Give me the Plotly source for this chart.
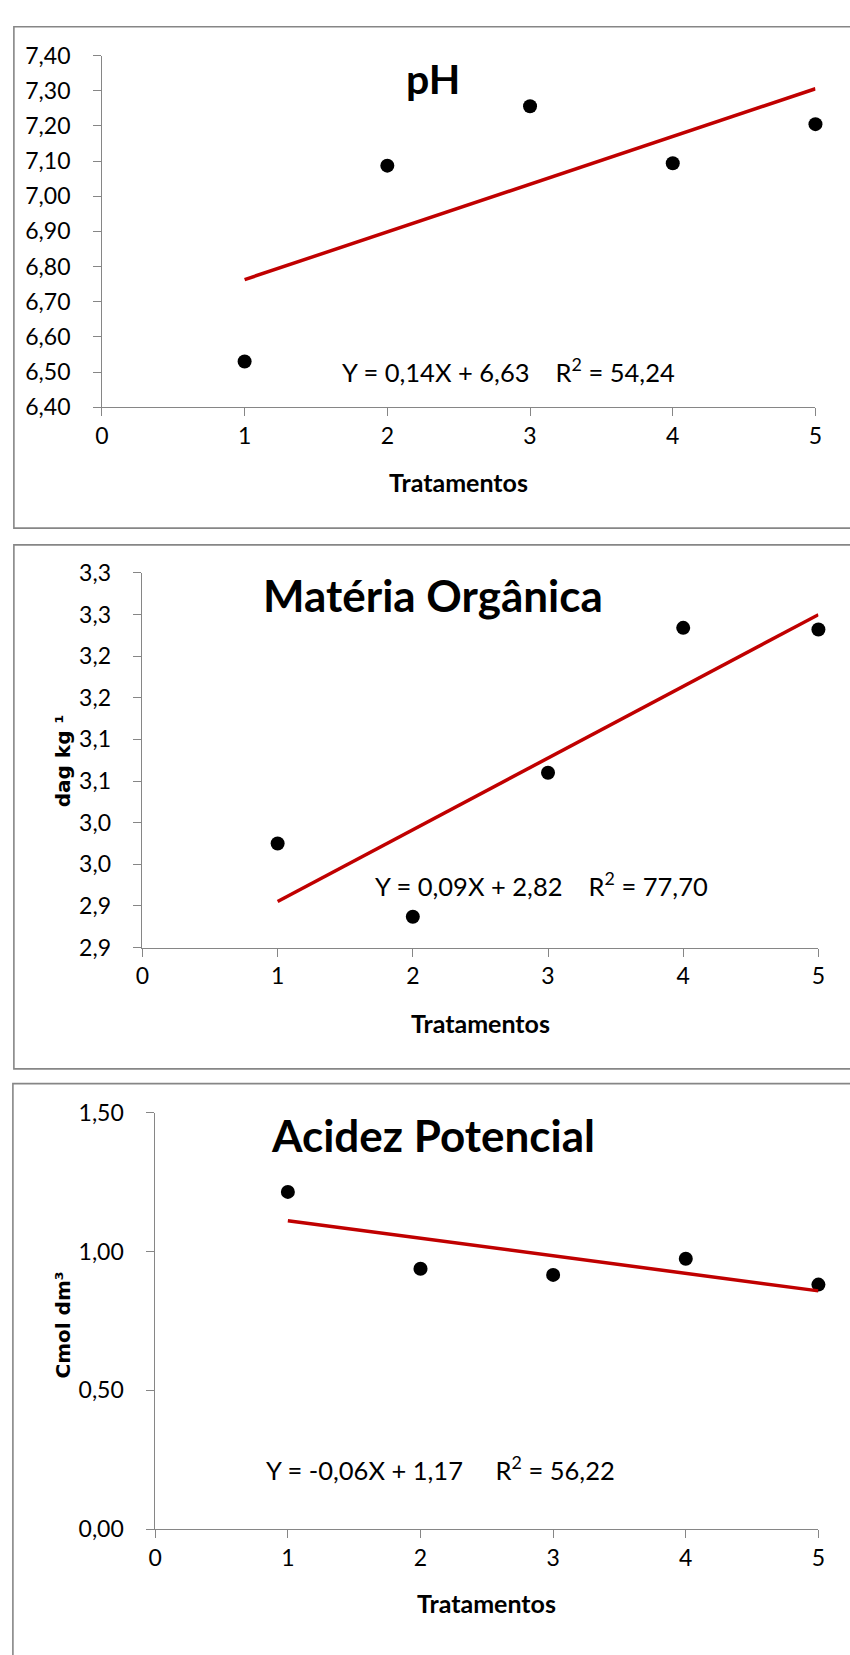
import numpy as np
import plotly.graph_objects as go

W, H = 850, 1655

# ---------------- data ----------------
tratamentos = [1, 2, 3, 4, 5]
ph_values = [6.53, 7.087, 7.256, 7.094, 7.205]
mo_values = [2.975, 2.887, 3.060, 3.234, 3.232]
acidez_values = [1.215, 0.938, 0.916, 0.974, 0.881]

x_ticks = [0, 1, 2, 3, 4, 5]
x_ticktext = ["0", "1", "2", "3", "4", "5"]

ph_ticks = [6.40, 6.50, 6.60, 6.70, 6.80, 6.90, 7.00, 7.10, 7.20, 7.30, 7.40]
ph_ticktext = ["6,40", "6,50", "6,60", "6,70", "6,80", "6,90", "7,00", "7,10", "7,20", "7,30", "7,40"]

mo_ticks = [2.85, 2.90, 2.95, 3.00, 3.05, 3.10, 3.15, 3.20, 3.25, 3.30]
mo_ticktext = ["2,9", "2,9", "3,0", "3,0", "3,1", "3,1", "3,2", "3,2", "3,3", "3,3"]

ac_ticks = [0.0, 0.5, 1.0, 1.5]
ac_ticktext = ["0,00", "0,50", "1,00", "1,50"]

titles = ["pH", "Matéria Orgânica", "Acidez Potencial"]
equations = [
    "Y = 0,14X + 6,63\u00a0\u00a0\u00a0\u00a0R<sup>2</sup> = 54,24",
    "Y = 0,09X + 2,82\u00a0\u00a0\u00a0\u00a0R<sup>2</sup> = 77,70",
    "Y = -0,06X + 1,17\u00a0\u00a0\u00a0\u00a0\u00a0R<sup>2</sup> = 56,22",
]
y_titles = [None, "dag kg \u00b9", "Cmol dm\u00b3"]
x_title = "Tratamentos"

# ---------------- layout helpers ----------------
def px(x):
    return x / W

def py(y):
    return 1 - y / H

GRAY = "#868686"
RED = "#C00000"
FONT = "Lato"
PAD = "\u00a0" * 3   # gap between y tick labels and ticks

panels = [
    dict(x0=96.5, x1=822, yb=399, yt=41.3, rng=[6.4, 7.4], tv=ph_ticks, tt=ph_ticktext, vals=ph_values,
         title_xy=(433, 65), title_size=41, eq_xy=(510, 361), xt_xy=(459, 475), yt_xy=None,
         border=(7, 12, 880, 522)),
    dict(x0=137.7, x1=825, yb=948.6, yt=567.5, rng=[2.85, 3.30], tv=mo_ticks, tt=mo_ticktext, vals=mo_values,
         title_xy=(433, 590), title_size=44, eq_xy=(543, 884), xt_xy=(481, 1025), yt_xy=(57, 759),
         border=(7, 539, 880, 1072)),
    dict(x0=150.7, x1=825, yb=1540.2, yt=1116.7, rng=[0, 1.5], tv=ac_ticks, tt=ac_ticktext, vals=acidez_values,
         title_xy=(433, 1139), title_size=44, eq_xy=(441, 1478), xt_xy=(488, 1615), yt_xy=(57, 1333),
         border=(6, 1087, 880, 1720)),
]

fig = go.Figure()
shapes = []
annotations = []
layout = {}

for i, p in enumerate(panels):
    n = "" if i == 0 else str(i + 1)
    xa, ya = "x" + n, "y" + n
    fig.add_trace(go.Scatter(x=tratamentos, y=p["vals"], mode="markers", xaxis=xa, yaxis=ya,
                             marker=dict(color="black", size=14), cliponaxis=False, showlegend=False))
    # linear trend line (least squares fit of the points)
    slope, intercept = np.polyfit(tratamentos, p["vals"], 1)
    xl = [tratamentos[0], tratamentos[-1]]
    yl = [slope * v + intercept for v in xl]
    fig.add_trace(go.Scatter(x=xl, y=yl, mode="lines", xaxis=xa, yaxis=ya,
                             line=dict(color=RED, width=3.5), cliponaxis=False, showlegend=False))

    layout["xaxis" + n] = dict(
        domain=[px(p["x0"]), px(p["x1"])], range=[0, 5], anchor=ya,
        tickvals=x_ticks, ticktext=x_ticktext, ticks="outside", ticklen=8, tickwidth=1.3,
        tickcolor=GRAY, showline=True, linecolor=GRAY, linewidth=1.3, showgrid=False,
        zeroline=False, tickfont=dict(family=FONT, size=23, color="black"),
    )
    layout["yaxis" + n] = dict(
        domain=[py(p["yb"]), py(p["yt"])], range=p["rng"], anchor=xa,
        tickvals=p["tv"], ticktext=[t + PAD for t in p["tt"]], ticks="outside", ticklen=8, tickwidth=1.3,
        tickcolor=GRAY, showline=True, linecolor=GRAY, linewidth=1.3, showgrid=False,
        zeroline=False, tickfont=dict(family=FONT, size=23, color="black"),
    )

    bx0, by0, bx1, by1 = p["border"]
    shapes.append(dict(type="rect", xref="paper", yref="paper", x0=px(bx0), x1=px(bx1),
                       y0=py(by1), y1=py(by0), line=dict(color=GRAY, width=1.6), layer="below"))

    tx, ty = p["title_xy"]
    annotations.append(dict(text="<b>%s</b>" % titles[i], x=px(tx), y=py(ty), xref="paper", yref="paper",
                            showarrow=False, xanchor="center", yanchor="middle",
                            font=dict(family=FONT, size=p["title_size"], color="black")))
    ex, ey = p["eq_xy"]
    annotations.append(dict(text=equations[i], x=px(ex), y=py(ey), xref="paper", yref="paper",
                            showarrow=False, xanchor="center", yanchor="middle",
                            font=dict(family=FONT, size=25.5, color="black")))
    xx, xy = p["xt_xy"]
    annotations.append(dict(text="<b>%s</b>" % x_title, x=px(xx), y=py(xy), xref="paper", yref="paper",
                            showarrow=False, xanchor="center", yanchor="middle",
                            font=dict(family=FONT, size=25, color="black")))
    if p["yt_xy"] is not None:
        yx, yy = p["yt_xy"]
        annotations.append(dict(text="<b>%s</b>" % y_titles[i], x=px(yx), y=py(yy), xref="paper", yref="paper",
                                showarrow=False, xanchor="center", yanchor="middle", textangle=-90,
                                font=dict(family="DejaVu Sans", size=20, color="black")))

fig.update_layout(
    width=W, height=H, margin=dict(l=0, r=0, t=0, b=0),
    paper_bgcolor="white", plot_bgcolor="white",
    shapes=shapes, annotations=annotations, showlegend=False,
    **layout,
)

fig.write_html("out.html")
